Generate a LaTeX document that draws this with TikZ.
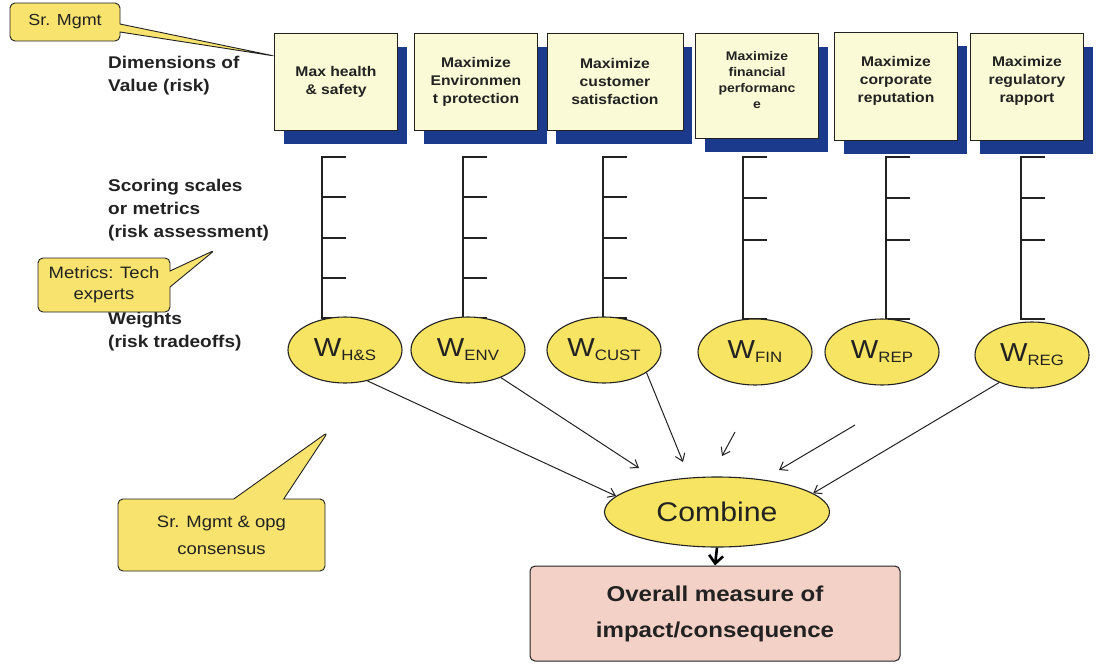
\documentclass[tikz,border=0pt]{standalone}
\usepackage{fontspec}
\setmainfont{Liberation Sans}[FakeStretch=1.12]
\usetikzlibrary{arrows.meta,shapes.geometric,shapes.callouts,shadows}
\definecolor{cream}{HTML}{FAFAD6}
\definecolor{navy}{HTML}{1C3A8C}
\definecolor{yell}{HTML}{F6E462}
\definecolor{callyel}{HTML}{F7E36E}
\definecolor{pinkbox}{HTML}{F3D1C6}
\definecolor{ink}{HTML}{222222}
\newcommand{\wsub}[1]{{\fontsize{26}{26}\selectfont W}\raisebox{-4pt}{\fontsize{15}{15}\selectfont #1}}
\begin{document}
\begin{tikzpicture}[x=1pt,y=-1pt,
  dimbox/.style={draw=ink, line width=0.9pt, fill=cream, minimum height=97pt, align=center,
    font=\bfseries\fontsize{14}{18}\selectfont, inner sep=2pt, text=ink,
    drop shadow={shadow xshift=9pt, shadow yshift=-14pt, fill=navy, opacity=1}},
  lbl/.style={anchor=west, align=left, font=\bfseries\fontsize{17}{23}\selectfont, text=ink, inner sep=0pt},
  calloutbox/.style={rectangle callout, draw=ink, line width=0.9pt, fill=callyel, rounded corners=5pt,
    align=center, font=\fontsize{16.5}{22}\selectfont, text=ink, inner sep=2pt},
  wt/.style={ellipse, draw=ink, line width=1.1pt, fill=yell, minimum width=114pt, minimum height=66pt, inner sep=0pt, text=ink},
  scaleline/.style={draw=ink, line width=1.6pt},
  arr/.style={draw=ink, line width=1pt, -{Straight Barb[length=7pt,width=10pt]}},
  bigarr/.style={draw=black, line width=2.6pt, -{Straight Barb[length=8pt,width=14pt]}}
]
\useasboundingbox (0,0) rectangle (1097,664);
\fill[white] (0,0) rectangle (1097,664);

% dimension boxes
\node[dimbox, minimum width=123pt] (b1) at (336,81.5) {Max health\\\& safety};
\node[dimbox, minimum width=123pt] (b2) at (476,81.5) {Maximize\\Environmen\\t protection};
\node[dimbox, minimum width=136pt] (b3) at (615,81.5) {Maximize\\customer\\satisfaction};
\node[dimbox, minimum width=123pt, minimum height=105pt, font=\bfseries\fontsize{12.5}{16}\selectfont] (b4) at (757,85.5) {Maximize\\financial\\performanc\\e\\[-4pt]};
\node[dimbox, minimum width=123pt, minimum height=108pt] (b5) at (896,86) {Maximize\\corporate\\reputation\\[-4pt]};
\node[dimbox, minimum width=113pt, minimum height=107pt] (b6) at (1027,86.5) {Maximize\\regulatory\\rapport\\[-4pt]};

% row labels
\node[lbl] (l1) at (108,76) {Dimensions of\\Value (risk)};
\node[lbl] (l2) at (108,210) {Scoring scales\\or metrics\\(risk assessment)};
\node[lbl] (l3) at (108,332) {Weights\\(risk tradeoffs)};

% scales
\foreach \x in {322,463,603} {
  \draw[scaleline] (\x,157) -- (\x,318);
  \foreach \y in {157,197,238,278,318} \draw[scaleline] (\x-0.8,\y) -- (\x+24,\y);
}
\foreach \x in {743,886,1021} {
  \draw[scaleline] (\x,157) -- (\x,319);
  \foreach \y in {157,198,240,319} \draw[scaleline] (\x-0.8,\y) -- (\x+24,\y);
}

% weights
\node[wt] (w1) at (345,350) {\wsub{H\&S}};
\node[wt] (w2) at (468,350) {\wsub{ENV}};
\node[wt] (w3) at (604,350) {\wsub{CUST}};
\node[wt] (w4) at (755,352) {\wsub{FIN}};
\node[wt] (w5) at (882,352) {\wsub{REP}};
\node[wt] (w6) at (1032,355) {\wsub{REG}};

% combine
\node[ellipse, draw=ink, line width=1.1pt, fill=yell, minimum width=225pt, minimum height=70pt,
  font=\fontsize{27}{27}\selectfont, text=ink] (comb) at (717,512) {Combine};

% overall
\node[rectangle, rounded corners=5pt, draw=ink, line width=1pt, fill=pinkbox, minimum width=370pt,
  minimum height=95pt, align=center, font=\bfseries\fontsize{21.5}{36}\selectfont, text=ink] (ov) at (715,613.5)
  {Overall measure of\\impact/consequence};

% arrows
\coordinate (e2) at (639,468);
\coordinate (e3) at (683,462);
\coordinate (s4) at (735,432);
\coordinate (e4) at (722,456);
\coordinate (s5) at (855,425);
\coordinate (e5) at (779,470);
\draw[arr] (w1.-54) -- (comb.171);
\draw[arr] (w2.-40) -- (e2);
\draw[arr] (w3.-28) -- (e3);
\draw[arr] (s4) -- (e4);
\draw[arr] (s5) -- (e5);
\draw[arr] (w6.-140) -- (comb.11);
\draw[bigarr] (comb.south) -- (ov.north);

% callouts
\coordinate (srtip) at (274.5,56);
\coordinate (mttip) at (215,250);
\coordinate (cstip) at (328,432);
\node[calloutbox, callout absolute pointer={(srtip)}, callout pointer width=8pt,
  minimum width=110pt, minimum height=38pt, font=\fontsize{16}{20}\selectfont] (sr) at (65,22) {Sr. Mgmt};
\node[calloutbox, callout absolute pointer={(mttip)}, callout pointer width=16pt,
  minimum width=132pt, minimum height=54pt, font=\fontsize{16.5}{21}\selectfont] (mt) at (104,285) {Metrics: Tech\\experts};
\node[calloutbox, callout absolute pointer={(cstip)}, callout pointer width=50pt,
  minimum width=207pt, minimum height=72pt, font=\fontsize{16.5}{27}\selectfont] (cs) at (221.5,535) {Sr. Mgmt \& opg\\consensus};
\end{tikzpicture}
\end{document}
